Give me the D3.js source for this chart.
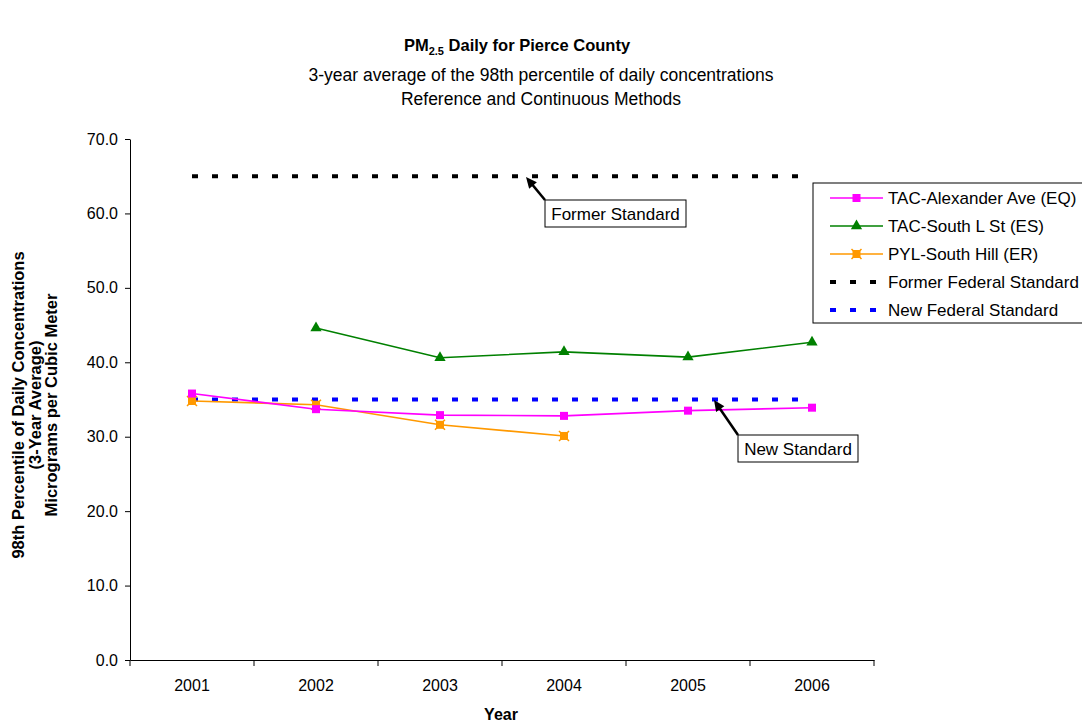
<!DOCTYPE html>
<html><head><meta charset="utf-8">
<script src="https://cdn.jsdelivr.net/npm/d3@7"></script>
<style>body{margin:0;background:#fff}svg{font-family:"Liberation Sans",Arial,sans-serif}</style>
</head><body><svg id="c" width="1082" height="723"></svg>
<script>
const years = ["2001","2002","2003","2004","2005","2006"];
const alexander = [35.8, 33.7, 32.9, 32.8, 33.5, 33.9];
const southL = [null, 44.6, 40.6, 41.4, 40.7, 42.7];
const southHill = [34.8, 34.3, 31.6, 30.1, null, null];
const formerStd = [65, 65, 65, 65, 65, 65];
const newStd = [35, 35, 35, 35, 35, 35];
const yTicks = [0, 10, 20, 30, 40, 50, 60, 70];
const seriesNames = ["TAC-Alexander Ave (EQ)", "TAC-South L St (ES)", "PYL-South Hill (ER)", "Former Federal Standard", "New Federal Standard"];
const colors = ["#ff00ff", "#008000", "#ff9900", "#000000", "#0000ff"];

const svg = d3.select("#c");
const x = d3.scaleBand().domain(years).range([130, 874]);
const y = d3.scaleLinear().domain([0, 70]).range([660, 139]);
const cx = d => x(d) + x.bandwidth() / 2;

// axes
const ya = svg.append("g").attr("transform", "translate(130,0)")
  .call(d3.axisLeft(y).tickValues(yTicks).tickFormat(d3.format(".1f")).tickSize(5).tickSizeOuter(0));
ya.select(".domain").attr("stroke", "#000");
ya.selectAll("text").attr("font-size", 16).attr("font-family", "Liberation Sans, Arial").attr("x", -12).attr("fill","#000");
const xa = svg.append("g").attr("transform", "translate(0,660)")
  .call(d3.axisBottom(x).tickSize(0).tickSizeOuter(0));
xa.select(".domain").attr("stroke", "#000");
xa.selectAll("text").attr("font-size", 16).attr("font-family", "Liberation Sans, Arial").attr("y", 20).attr("dy", "0.71em").attr("fill","#000");
const tickPos = years.map(d => x(d)).concat([x(years[years.length-1]) + x.bandwidth()]);
svg.append("g").selectAll("line").data(tickPos).join("line")
  .attr("x1", d => d).attr("x2", d => d).attr("y1", 660).attr("y2", 666).attr("stroke", "#000");

// standards
function stdLine(vals, col) {
  svg.append("path").datum(vals.map((v, i) => [cx(years[i]), y(v)]))
    .attr("d", d3.line()).attr("stroke", col).attr("stroke-width", 4)
    .attr("stroke-dasharray", "6,14").attr("fill", "none");
}
stdLine(formerStd, colors[3]);
stdLine(newStd, colors[4]);

function series(vals, col, marker) {
  const pts = vals.map((v, i) => v == null ? null : [cx(years[i]), y(v)]).filter(p => p);
  svg.append("path").datum(pts).attr("d", d3.line()).attr("stroke", col).attr("stroke-width", 1.6).attr("fill", "none");
  pts.forEach(p => drawMarker(p[0], p[1], col, marker));
}
function drawMarker(px, py, col, m) {
  if (m === "square") {
    svg.append("rect").attr("x", px - 4).attr("y", py - 4).attr("width", 8).attr("height", 8).attr("fill", col);
  } else if (m === "triangle") {
    svg.append("path").attr("d", d3.symbol(d3.symbolTriangle, 55)()).attr("transform", `translate(${px},${py})`).attr("fill", col);
  } else {
    svg.append("rect").attr("x", px - 4).attr("y", py - 4).attr("width", 8).attr("height", 8).attr("fill", col);
    svg.append("path").attr("d", `M${px-5},${py-5}L${px+5},${py+5}M${px+5},${py-5}L${px-5},${py+5}`).attr("stroke", col).attr("stroke-width", 1.5);
  }
}
series(southHill, colors[2], "star");
series(alexander, colors[0], "square");
series(southL, colors[1], "triangle");

// annotations
function annot(text, bx, by, bw, bh, ax, ay) {
  svg.append("rect").attr("x", bx).attr("y", by).attr("width", bw).attr("height", bh).attr("fill", "#fff").attr("stroke", "#000");
  svg.append("text").attr("x", bx + bw / 2).attr("y", by + bh / 2 + 6).attr("text-anchor", "middle").attr("font-size", 17).text(text);
  const ang = Math.atan2(ay - by, ax - bx);
  svg.append("line").attr("x1", bx).attr("y1", by).attr("x2", ax - 6 * Math.cos(ang)).attr("y2", ay - 6 * Math.sin(ang)).attr("stroke", "#000").attr("stroke-width", 2.5);
  const L = 11, W = 5;
  const bxp = ax - L * Math.cos(ang), byp = ay - L * Math.sin(ang);
  svg.append("path").attr("d", `M${ax},${ay}L${bxp + W*Math.sin(ang)},${byp - W*Math.cos(ang)}L${bxp - W*Math.sin(ang)},${byp + W*Math.cos(ang)}Z`).attr("fill", "#000");
}
annot("Former Standard", 545, 200, 141, 27, 526, 177);
annot("New Standard", 738, 435, 120, 27, 714, 400);

// legend
svg.append("rect").attr("x", 813).attr("y", 183).attr("width", 280).attr("height", 140).attr("fill", "#fff").attr("stroke", "#000");
const legY = [198, 226, 254, 282, 310];
const markers = ["square", "triangle", "star", null, null];
seriesNames.forEach((n, i) => {
  const ly = legY[i];
  if (i < 3) {
    svg.append("line").attr("x1", 830).attr("x2", 883).attr("y1", ly).attr("y2", ly).attr("stroke", colors[i]).attr("stroke-width", 1.6);
    drawMarker(856.5, ly, colors[i], markers[i]);
  } else {
    svg.append("line").attr("x1", 830).attr("x2", 883).attr("y1", ly).attr("y2", ly).attr("stroke", colors[i]).attr("stroke-width", 4).attr("stroke-dasharray", "6,14");
  }
  svg.append("text").attr("x", 888).attr("y", ly + 6).attr("font-size", 17).text(n);
});

// titles
const t = svg.append("text").attr("x", 517).attr("y", 51).attr("text-anchor", "middle").attr("font-size", 16.5).attr("font-weight", "bold");
t.append("tspan").text("PM");
t.append("tspan").attr("font-size", 11).attr("dy", 4).text("2.5");
t.append("tspan").attr("dy", -4).text(" Daily for Pierce County");
svg.append("text").attr("x", 541).attr("y", 81).attr("text-anchor", "middle").attr("font-size", 17.5).text("3-year average of the 98th percentile of daily concentrations");
svg.append("text").attr("x", 541).attr("y", 105).attr("text-anchor", "middle").attr("font-size", 17.5).text("Reference and Continuous Methods");

// axis titles
const yl = ["98th Percentile of Daily Concentrations", "(3-Year Average)", "Micrograms per Cubic Meter"];
yl.forEach((s, i) => {
  svg.append("text").attr("transform", `translate(${24 + i * 16.5},405) rotate(-90)`).attr("text-anchor", "middle")
    .attr("font-size", 16.5).attr("font-weight", "bold").text(s);
});
svg.append("text").attr("x", 501).attr("y", 720).attr("text-anchor", "middle").attr("font-size", 16).attr("font-weight", "bold").text("Year");
</script></body></html>
